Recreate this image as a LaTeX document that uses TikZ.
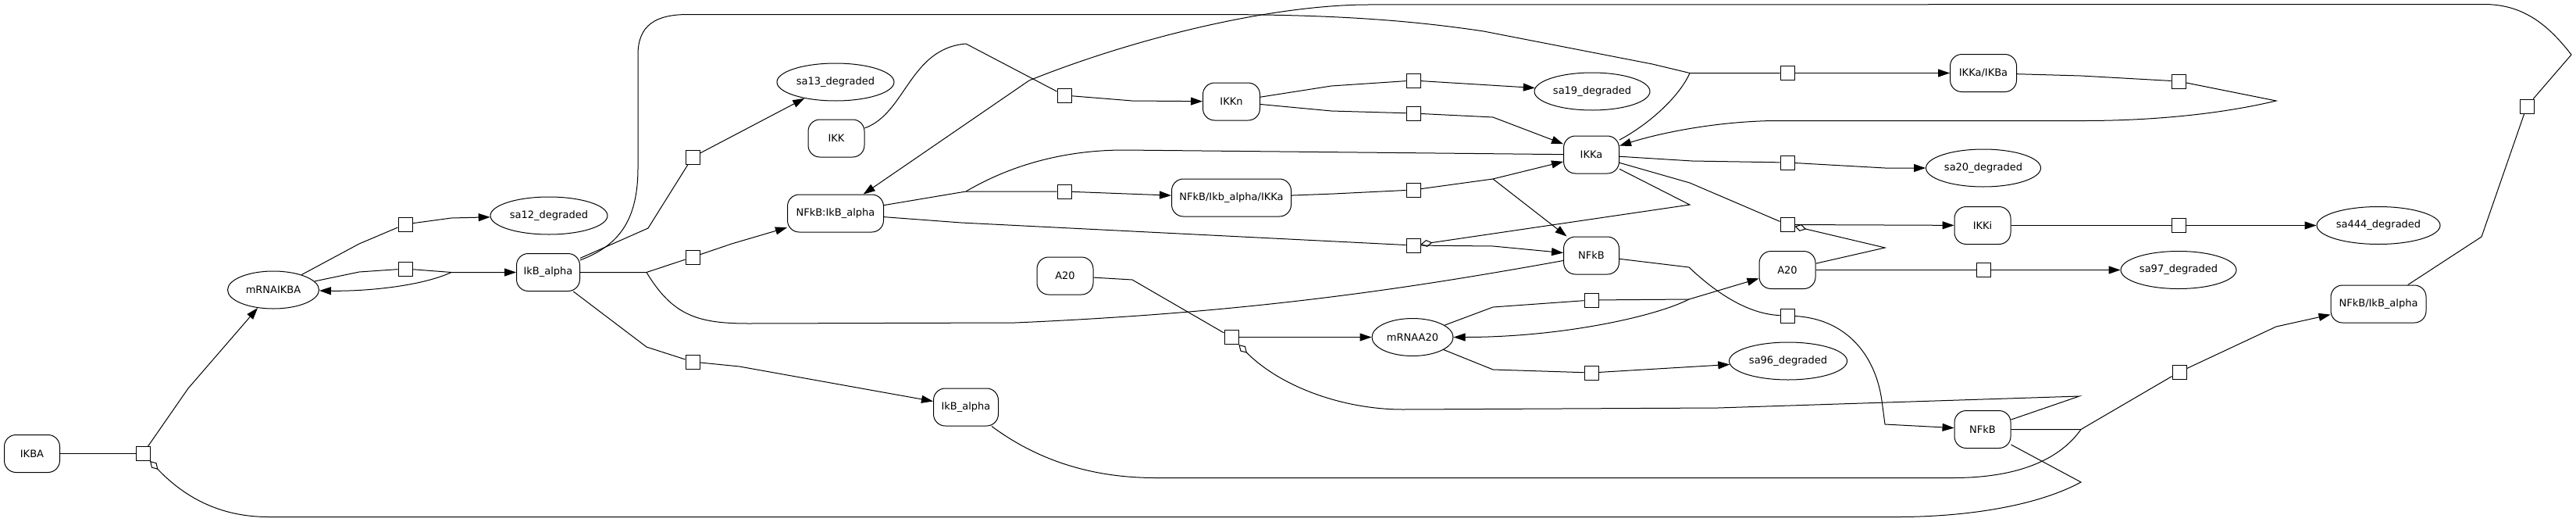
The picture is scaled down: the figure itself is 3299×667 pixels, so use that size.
\documentclass[tikz,border=0pt]{standalone}
\usepackage{fontspec}
\setmainfont{DejaVu Sans}
\usetikzlibrary{arrows.meta,shapes.geometric}
\begin{document}
\begin{tikzpicture}[x=1pt,y=-1pt,line width=1pt,
  every node/.style={font=\fontsize{13}{15}\selectfont},
  species/.style={draw,rectangle,rounded corners=15pt,minimum height=48pt,inner xsep=7pt,inner ysep=0pt},
  ell/.style={draw,ellipse,inner sep=0pt,minimum height=48pt},
  procsq/.style={draw,fill=white,rectangle,minimum size=18pt,inner sep=0pt},
  prodarrow/.style={-{Triangle[length=15pt,width=10pt]}},
  modif/.style={-{Diamond[open,length=15pt,width=9pt]}}]
\useasboundingbox[fill=white] (0,0) rectangle (3299,667);

% species
\node[species,minimum width=71pt] (IKBA) at (41,580.5) {IKBA};
\node[species,minimum width=81pt] (IkBa1) at (702,348.5) {IkB\_alpha};
\node[species,minimum width=83pt] (IkBa2) at (1237,521) {IkB\_alpha};
\node[species,minimum width=123pt] (NFkBIkBa) at (1070,273) {NFkB:IkB\_alpha};
\node[species,minimum width=72pt] (IKK) at (1071,177) {IKK};
\node[species,minimum width=73pt] (IKKn) at (1577,130) {IKKn};
\node[species,minimum width=71pt] (IKKa) at (2038,198) {IKKa};
\node[species,minimum width=153pt] (NFkBIkbIKKa) at (1577,253) {NFkB/Ikb\_alpha/IKKa};
\node[species,minimum width=71pt] (NFkB1) at (2038,327) {NFkB};
\node[species,minimum width=72pt] (A20a) at (1364,353) {A20};
\node[species,minimum width=72pt] (A20b) at (2289,345.5) {A20};
\node[species,minimum width=85pt] (IKKaIKBa) at (2540,93.5) {IKKa/IKBa};
\node[species,minimum width=72pt] (IKKi) at (2539,288.5) {IKKi};
\node[species,minimum width=72pt] (NFkB2) at (2539,549.5) {NFkB};
\node[species,minimum width=122pt] (NFkBIkBa2) at (3046,389) {NFkB/IkB\_alpha};

% ellipses
\node[ell,minimum width=117pt] (mRNAIKBA) at (350,371) {mRNAIKBA};
\node[ell,minimum width=150pt] (sa12) at (703,276) {sa12\_degraded};
\node[ell,minimum width=150pt] (sa13) at (1070,105) {sa13\_degraded};
\node[ell,minimum width=148pt] (sa19) at (2039,117) {sa19\_degraded};
\node[ell,minimum width=147pt] (sa20) at (2540,215) {sa20\_degraded};
\node[ell,minimum width=158pt] (sa444) at (3046,288.5) {sa444\_degraded};
\node[ell,minimum width=148pt] (sa97) at (2790,345.5) {sa97\_degraded};
\node[ell,minimum width=151pt] (sa96) at (2290,462) {sa96\_degraded};
\node[ell,minimum width=104pt] (mRNAA20) at (1809,431.5) {mRNAA20};

% process squares
\node[procsq] (p1) at (183,580.5) {};
\node[procsq] (p2) at (519,287) {};
\node[procsq] (p3) at (519,344) {};
\node[procsq] (p4) at (887,201) {};
\node[procsq] (p5) at (887,329) {};
\node[procsq] (p6) at (887,463) {};
\node[procsq] (p7) at (1363,122) {};
\node[procsq] (p8) at (1363,245) {};
\node[procsq] (p9) at (1810,103) {};
\node[procsq] (p10) at (1810,145) {};
\node[procsq] (p11) at (1810,243) {};
\node[procsq] (p12) at (1810,314) {};
\node[procsq] (p13) at (2289,93.5) {};
\node[procsq] (p14) at (2289,208) {};
\node[procsq] (p15) at (2289,287.5) {};
\node[procsq] (p16) at (2790,104) {};
\node[procsq] (p17) at (2790,288.5) {};
\node[procsq] (p18) at (2540,345.5) {};
\node[procsq] (p19) at (1577,431.5) {};
\node[procsq] (p20) at (2038,384) {};
\node[procsq] (p21) at (2038,477) {};
\node[procsq] (p22) at (2289,404) {};
\node[procsq] (p23) at (2791,476) {};
\node[procsq] (p24) at (3236,136) {};

% junctions
\coordinate (j3) at (578,348.5);
\coordinate (j5) at (828,348.5);
\coordinate (j8) at (1237,245);
\coordinate (j11) at (1912,229);
\coordinate (j13) at (2164,93.5);
\coordinate (j20) at (2163,383);
\coordinate (j23) at (2665,549.5);

% p1
\draw (IKBA) -- (p1);
\draw[prodarrow] (p1) -- (241,497) -- (mRNAIKBA);
\draw[modif] (NFkB2) -- (2665,617) .. controls (2600,652) and (2500,661.5) .. (2431,661.5) -- (344,661.5) .. controls (280,661.5) and (235,635) .. (p1);
% p2
\draw (mRNAIKBA) -- (460,312) -- (p2);
\draw[prodarrow] (p2) -- (578,279) -- (sa12);
% p3
\draw (mRNAIKBA) -- (460,348) -- (p3);
\draw[prodarrow] (p3) -- (j3) -- (IkBa1);
\draw[prodarrow] (j3) .. controls (540,366) and (470,373) .. (mRNAIKBA);
% p4
\draw (IkBa1) -- (830,292) -- (p4);
\draw[prodarrow] (p4) -- (sa13);
% p5
\draw (IkBa1) -- (j5) -- (p5);
\draw[prodarrow] (p5) -- (937,312) -- (NFkBIkBa);
\draw (j5) .. controls (862,405) and (895,414) .. (960,414) -- (1300,413) .. controls (1600,400) and (1800,370) .. (NFkB1);
% p6
\draw (IkBa1) -- (828,444) -- (p6);
\draw[prodarrow] (p6) -- (947,469) -- (IkBa2);
% p7
\draw (IKK) .. controls (1160,145) and (1165,62) .. (1237,56) -- (p7);
\draw[prodarrow] (p7) -- (1450,129) -- (IKKn);
% p8
\draw (NFkBIkBa) -- (j8) -- (p8);
\draw[prodarrow] (p8) -- (NFkBIkbIKKa);
\draw (j8) .. controls (1300,208) and (1370,192) .. (1440,192) -- (IKKa);
% p9
\draw (IKKn) -- (1705,110) -- (p9);
\draw[prodarrow] (p9) -- (sa19);
% p10
\draw (IKKn) -- (1705,142) -- (p10);
\draw[prodarrow] (p10) -- (1912,150) -- (IKKa);
% p11
\draw (NFkBIkbIKKa) -- (1708,248) -- (p11);
\draw[prodarrow] (p11) -- (j11) -- (IKKa);
\draw[prodarrow] (j11) -- (NFkB1);
% p12
\draw (NFkBIkBa) -- (1231,285) -- (p12);
\draw[prodarrow] (p12) -- (1912,315) -- (NFkB1);
\draw[modif] (IKKa) -- (2164,262) -- (p12);
% p13
\draw (IkBa1) .. controls (790,315) and (817,285) .. (817,215) -- (817,70) .. controls (817,32) and (840,18.5) .. (881,18.5) -- (1550,18.5) .. controls (1700,18.5) and (1800,25) .. (1900,40) -- (2116,82) -- (j13) -- (p13);
\draw[prodarrow] (p13) -- (IKKaIKBa);
\draw (j13) .. controls (2150,125) and (2110,160) .. (IKKa);
% p14
\draw (IKKa) -- (2167,206) -- (p14);
\draw[prodarrow] (p14) -- (2414,215) -- (sa20);
% p15
\draw (IKKa) -- (2164,234) -- (p15);
\draw[prodarrow] (p15) -- (IKKi);
\draw[modif] (A20b) -- (2414,317) -- (p15);
% p16
\draw (IKKaIKBa) -- (2665,97) -- (p16);
\draw[prodarrow] (p16) -- (2915,129) .. controls (2840,147) and (2750,154.5) .. (2669,154.5) -- (2270,154.5) .. controls (2190,156) and (2120,172) .. (IKKa);
% p17
\draw (IKKi) -- (p17);
\draw[prodarrow] (p17) -- (sa444);
% p18
\draw (A20b) -- (p18);
\draw[prodarrow] (p18) -- (sa97);
% p19
\draw (A20a) -- (1450,358) -- (p19);
\draw[prodarrow] (p19) -- (mRNAA20);
\draw[modif] (NFkB2) -- (2663,507) -- (2200,522) -- (1797,524) .. controls (1720,524) and (1640,495) .. (p19);
% p20
\draw (mRNAA20) -- (1912,393) -- (p20);
\draw[prodarrow] (p20) -- (j20) -- (A20b);
\draw[prodarrow] (j20) .. controls (2120,405) and (2000,431.5) .. (mRNAA20);
% p21
\draw (mRNAA20) -- (1912,473) -- (p21);
\draw[prodarrow] (p21) -- (sa96);
% p22
\draw (NFkB1) -- (2163,342) .. controls (2200,377) and (2240,402) .. (p22);
\draw[prodarrow] (p22) .. controls (2365,408) and (2402,455) .. (2410,513) -- (2414,543) -- (NFkB2);
% p23
\draw (NFkB2) -- (j23) -- (p23);
\draw (IkBa2) .. controls (1330,590) and (1400,611.5) .. (1480,611.5) -- (2501,611.5) .. controls (2590,611.5) and (2640,585) .. (j23);
\draw[prodarrow] (p23) -- (2915,418) -- (NFkBIkBa2);
% p24
\draw (NFkBIkBa2) -- (3178,303) -- (p24);
\draw[prodarrow] (p24) -- (3293,70) .. controls (3262,30) and (3230,5.5) .. (3181,5.5) -- (1746,6) .. controls (1620,8) and (1450,50) .. (1318,103) -- (NFkBIkBa);
\end{tikzpicture}
\end{document}
